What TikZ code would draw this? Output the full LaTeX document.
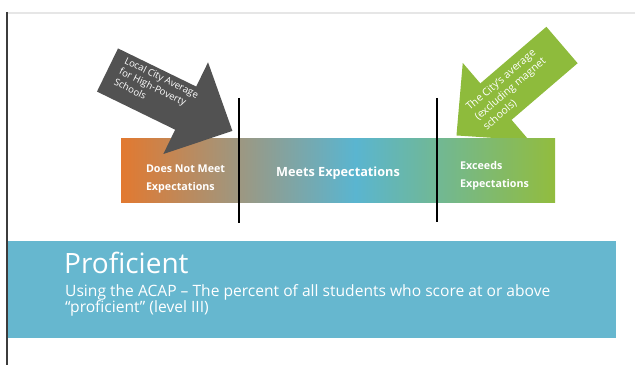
\documentclass[tikz,border=0pt]{standalone}
\usepackage{fontspec}
\setmainfont{Open Sans}
\usetikzlibrary{positioning}
\definecolor{loworange}{RGB}{226,121,48}
\definecolor{midblue}{RGB}{90,181,208}
\definecolor{highgreen}{RGB}{146,188,62}
\definecolor{bandblue}{RGB}{102,183,207}
\definecolor{arrowgrey}{RGB}{82,82,82}
\definecolor{arrowgreen}{RGB}{142,187,60}
\definecolor{framegrey}{RGB}{60,60,60}
\definecolor{rulegrey}{RGB}{230,230,230}
% orange -> blue -> green, blue a little right of centre
\pgfdeclarehorizontalshading{scaleshade}{100bp}{%
  color(0bp)=(loworange); color(25bp)=(loworange); color(52bp)=(midblue);
  color(75bp)=(highgreen); color(100bp)=(highgreen)}
\tikzset{
  x=1pt, y=1pt,
  divider/.style={line width=2.6pt, black},
  bar label/.style={text=white, font=\bfseries\fontsize{10.7}{18}\selectfont, align=left, inner sep=0pt},
  arrow label/.style={text=white, align=left, inner sep=0pt, transform shape},
  % fat block arrow along +x, tail centre at the origin
  block arrow/.pic={
    \path[pic actions] (0,-24) -- (87,-24) -- (87,-51) -- (139,0) -- (87,51) -- (87,24) -- (0,24) -- cycle;
  }
}

\begin{document}
\begin{tikzpicture}
    \useasboundingbox (0,0) rectangle (635,365);

    % ------- frame -------
    \draw[rulegrey, line width=2pt] (6,352) -- (635,352);
    \draw[framegrey, line width=1.8pt] (7,353) -- (7,0);

    % ------- proficient band -------
    \node[fill=bandblue, minimum width=608, minimum height=97, inner sep=0pt] (band) at (312,75.5) {};
    \node[anchor=base west, text=white, inner sep=0pt, font=\fontsize{28}{30}\selectfont] (title) at (64,92) {Proficient};
    \node[anchor=north west, text=white, inner sep=0pt, align=left, font=\fontsize{15.6}{16.5}\selectfont] (subtitle) at (65,81)
        {Using the ACAP -- The percent of all students who score at or above\\``proficient'' (level III)};

    % ------- city average arrow (behind the scale) -------
    \begin{scope}[shift={(562,320)}, rotate=-139.4]
        \pic[fill=arrowgreen, transform shape] {block arrow};
        \node[arrow label, rotate=180, font=\fontsize{10.5}{13}\selectfont] (city avg) at (68,0)
            {The City's average\\(excluding magnet\\schools)};
    \end{scope}

    % ------- expectation scale -------
    \node[shading=scaleshade, minimum width=434, minimum height=64, inner sep=0pt] (scale) at (338,195) {};
    \node[bar label, anchor=west] (low) at ([xshift=25, yshift=-9]scale.west) {Does Not Meet\\Expectations};
    \node[bar label, font=\bfseries\fontsize{12.7}{14}\selectfont] (meets) at (338,192) {Meets Expectations};
    \node[bar label, anchor=west] (high) at (460,189) {Exceeds\\Expectations};

    % ------- high-poverty arrow (over the scale) -------
    \begin{scope}[shift={(107.5,295)}, rotate=-26]
        \pic[fill=arrowgrey, transform shape] {block arrow};
        \node[arrow label, font=\fontsize{9.6}{12}\selectfont] (poverty avg) at (52,5)
            {Local City Average\\for High-Poverty\\Schools};
    \end{scope}

    % ------- cut points -------
    \draw[divider] (239,267) -- (239,142);
    \draw[divider] (437,267) -- (437,143);
\end{tikzpicture}
\end{document}
